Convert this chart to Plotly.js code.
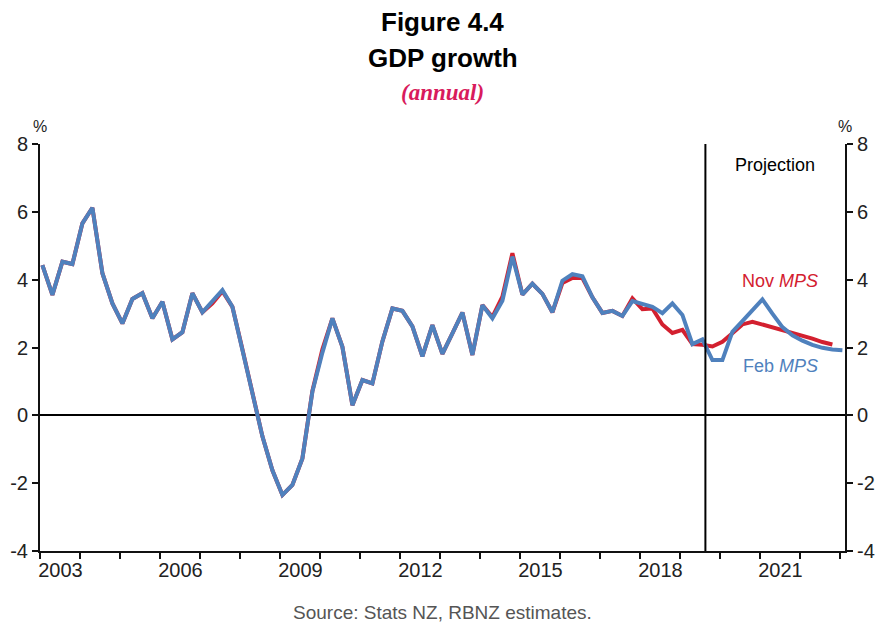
<!DOCTYPE html>
<html><head><meta charset="utf-8">
<script src="https://cdn.plot.ly/plotly-3.0.1.min.js"></script>
<style>html,body{margin:0;padding:0;background:#fff}#chart{width:885px;height:633px}</style>
</head><body><div id="chart"></div>
<script>
// Quarterly series, first observation 2003 Q1
const startYear = 2003;
const febMPS = [4.43,3.55,4.53,4.46,5.66,6.12,4.19,3.30,2.71,3.43,3.60,2.86,3.35,2.24,2.45,3.60,
  3.04,3.37,3.69,3.20,1.95,0.60,-0.62,-1.62,-2.35,-2.05,-1.27,0.70,1.85,2.86,2.02,0.30,
  1.04,0.94,2.18,3.15,3.08,2.62,1.74,2.66,1.81,2.42,3.03,1.78,3.25,2.86,3.38,4.68,
  3.56,3.88,3.58,3.04,3.97,4.16,4.10,3.48,3.02,3.08,2.93,3.37,3.30,3.20,3.01,3.30,
  2.96,2.10,2.24,1.63,1.63,2.46,2.78,3.12,3.42,3.00,2.60,2.36,2.20,2.08,1.99,1.94,1.92];
const novMPS = [4.43,3.55,4.53,4.46,5.66,6.12,4.19,3.30,2.71,3.43,3.60,2.86,3.35,2.24,2.45,3.60,
  3.04,3.30,3.66,3.20,1.95,0.60,-0.62,-1.62,-2.35,-2.05,-1.27,0.72,1.95,2.86,2.02,0.30,
  1.04,0.94,2.18,3.15,3.08,2.62,1.74,2.66,1.81,2.42,3.03,1.78,3.25,2.90,3.50,4.78,
  3.56,3.88,3.58,3.04,3.90,4.05,4.05,3.48,3.02,3.08,2.93,3.45,3.13,3.15,2.68,2.43,
  2.52,2.10,2.08,2.03,2.17,2.42,2.68,2.76,2.68,2.60,2.53,2.45,2.36,2.26,2.16,2.09];
const projectionStart = 2019.625;
const yearTicks = [];
for (let y = 2003; y <= 2023; y++) yearTicks.push(y);
const labelYears = [2003, 2006, 2009, 2012, 2015, 2018, 2021];
const yTicks = [-4, -2, 0, 2, 4, 6, 8];
const yTickText = ['-4', '-2', '0', '2', '4', '6', '8'];

const quarterPos = n => Array.from({length: n}, (_, i) => startYear + 0.05 + i / 4);

const red = '#d3202f', blue = '#4f81bd';
const traces = [
  {x: quarterPos(novMPS.length), y: novMPS, type: 'scatter', mode: 'lines',
   line: {color: red, width: 4}, hoverinfo: 'skip', showlegend: false},
  {x: quarterPos(febMPS.length), y: febMPS, type: 'scatter', mode: 'lines',
   line: {color: blue, width: 4}, hoverinfo: 'skip', showlegend: false},
  {x: [2010], y: [0], yaxis: 'y2', type: 'scatter', mode: 'markers',
   marker: {opacity: 0}, hoverinfo: 'skip', showlegend: false}
];

const tickFont = {family: 'Liberation Sans, Arial, sans-serif', size: 20, color: '#222'};
const titleFont = {family: 'Liberation Sans, Arial, sans-serif', size: 26, color: '#000'};
const layout = {
  width: 885, height: 633,
  margin: {l: 40, r: 40, t: 144, b: 82, pad: 0},
  paper_bgcolor: '#fff', plot_bgcolor: '#fff',
  xaxis: {
    range: [2002.99, 2023.115], showgrid: false, zeroline: false,
    showline: true, linecolor: '#111', linewidth: 2,
    tickmode: 'array', tickvals: labelYears.map(y => y + 0.5), ticktext: labelYears.map(String),
    ticks: '', tickfont: {family: 'Liberation Sans, Arial, sans-serif', size: 20, color: '#222'},
    minor: {tickmode: 'array', tickvals: yearTicks, ticks: 'outside', ticklen: 6, tickwidth: 2, tickcolor: '#111', showgrid: false}
  },
  yaxis: {
    range: [-4, 8], tickmode: 'array', tickvals: yTicks, ticktext: yTickText, showgrid: false,
    zeroline: true, zerolinecolor: '#000', zerolinewidth: 2,
    showline: true, linecolor: '#111', linewidth: 2,
    ticks: 'outside', ticklen: 6, tickwidth: 2, tickcolor: '#111', tickfont: tickFont
  },
  yaxis2: {
    range: [-4, 8], overlaying: 'y', side: 'right', tickmode: 'array', tickvals: yTicks, ticktext: yTickText,
    showgrid: false, zeroline: false, showline: true, linecolor: '#111', linewidth: 2,
    ticks: 'outside', ticklen: 6, tickwidth: 2, tickcolor: '#111', tickfont: tickFont
  },
  shapes: [
    {type: 'line', xref: 'x', yref: 'paper', x0: projectionStart, x1: projectionStart, y0: 0, y1: 1,
     line: {color: '#000', width: 2}}
  ],
  annotations: [
    {text: '<b>Figure 4.4</b>', xref: 'paper', yref: 'paper', x: 0.5, y: 1.300, yanchor: 'middle', showarrow: false, font: titleFont},
    {text: '<b>GDP growth</b>', xref: 'paper', yref: 'paper', x: 0.5, y: 1.211, yanchor: 'middle', showarrow: false, font: titleFont},
    {text: '<b><i>(annual)</i></b>', xref: 'paper', yref: 'paper', x: 0.5, y: 1.126, yanchor: 'middle', showarrow: false,
     font: {family: 'Liberation Serif, Times New Roman, serif', size: 23, color: '#d81b5c'}},
    {text: '%', xref: 'paper', yref: 'paper', x: 0, y: 1.042, xanchor: 'center', yanchor: 'middle', showarrow: false,
     font: {family: 'Liberation Sans, Arial, sans-serif', size: 16, color: '#222'}},
    {text: '%', xref: 'paper', yref: 'paper', x: 1, y: 1.042, xanchor: 'center', yanchor: 'middle', showarrow: false,
     font: {family: 'Liberation Sans, Arial, sans-serif', size: 16, color: '#222'}},
    {text: 'Projection', xref: 'x', yref: 'y', x: 2021.36, y: 7.38, showarrow: false,
     font: {family: 'Liberation Sans, Arial, sans-serif', size: 18, color: '#000'}},
    {text: 'Nov <i>MPS</i>', xref: 'x', yref: 'y', x: 2021.49, y: 3.96, showarrow: false,
     font: {family: 'Liberation Sans, Arial, sans-serif', size: 18, color: red}},
    {text: 'Feb <i>MPS</i>', xref: 'x', yref: 'y', x: 2021.51, y: 1.45, showarrow: false,
     font: {family: 'Liberation Sans, Arial, sans-serif', size: 18, color: blue}},
    {text: 'Source: Stats NZ, RBNZ estimates.', xref: 'paper', yref: 'paper', x: 0.5, y: -0.150, yanchor: 'middle', showarrow: false,
     font: {family: 'Liberation Sans, Arial, sans-serif', size: 19, color: '#555'}}
  ]
};
Plotly.newPlot('chart', traces, layout, {displayModeBar: false, staticPlot: true});
</script>
</body></html>
